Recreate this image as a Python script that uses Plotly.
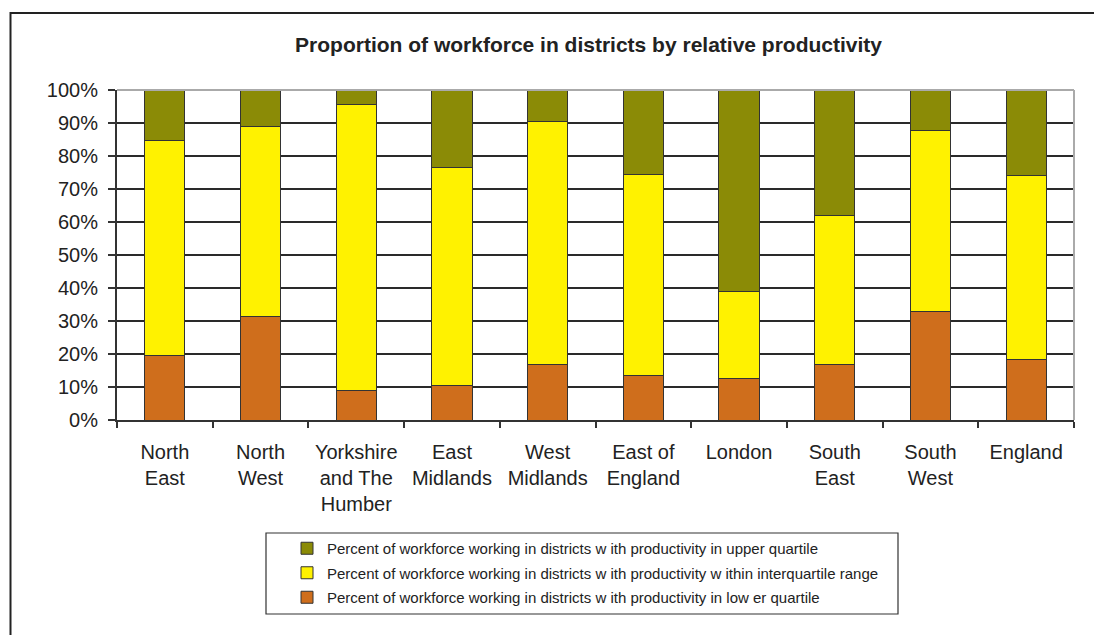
import plotly.graph_objects as go

regions = ["North<br>East", "North<br>West", "Yorkshire<br>and The<br>Humber", "East<br>Midlands",
           "West<br>Midlands", "East of<br>England", "London", "South<br>East", "South<br>West", "England"]

# shares of workforce (%) by productivity band of district
lower_quartile = [19.4, 31.3, 8.8, 10.6, 16.9, 13.5, 12.6, 16.9, 33.0, 18.2]
interquartile = [65.4, 57.5, 86.9, 65.9, 73.6, 60.8, 26.3, 45.2, 54.6, 55.8]
upper_quartile = [15.2, 11.2, 4.3, 23.5, 9.5, 25.7, 61.1, 37.9, 12.4, 26.0]

series_names = [
    "Percent of workforce working in districts w ith productivity in low er quartile",
    "Percent of workforce working in districts w ith productivity w ithin interquartile range",
    "Percent of workforce working in districts w ith productivity in upper quartile",
]
series_values = [lower_quartile, interquartile, upper_quartile]
series_colors = ["#CF6E1C", "#FFF200", "#8B8B06"]
legend_ranks = [3, 2, 1]

y_ticks = list(range(0, 101, 10))
y_tick_labels = [f"{v}%" for v in y_ticks]

W, H = 1094, 635
L, R, T, B = 117, 20, 90, 215
pw, ph = W - L - R, H - T - B


def px_x(x):
    return (x - L) / pw


def px_y(y):
    return (H - B - y) / ph


fig = go.Figure()
for name, vals, col, rank in zip(series_names, series_values, series_colors, legend_ranks):
    fig.add_trace(go.Bar(
        x=regions, y=vals, name=name,
        marker=dict(color=col, line=dict(color="#333333", width=1)),
        legendgroup=f"g{rank}", legendrank=rank,
    ))

axis_font = dict(family="Liberation Sans, Arial, sans-serif", size=20, color="#222222")

fig.update_layout(
    width=W, height=H,
    margin=dict(l=L, r=R, t=T, b=B),
    barmode="stack",
    bargap=0.58,
    plot_bgcolor="white",
    paper_bgcolor="white",
    font=dict(family="Liberation Sans, Arial, sans-serif", color="#222222"),
    title=dict(
        text="<b>Proportion of workforce in districts by relative productivity</b>",
        font=dict(size=21, color="#222222"),
        xref="container", x=0.538, xanchor="center",
        yref="container", y=1 - 45 / H, yanchor="middle",
    ),
    xaxis=dict(
        showline=True, linecolor="#333333", linewidth=2,
        ticks="outside", tickson="boundaries", ticklen=6, tickcolor="#333333", tickwidth=1.5,
        tickfont=axis_font, ticklabelstandoff=13,
        showgrid=False,
    ),
    yaxis=dict(
        range=[0, 100], tickvals=y_ticks, ticktext=y_tick_labels,
        showline=True, linecolor="#333333", linewidth=2,
        ticks="outside", ticklen=7, tickcolor="#333333", tickwidth=1.5,
        tickfont=axis_font, ticklabelstandoff=6,
        showgrid=True, gridcolor="#2a2a2a", gridwidth=1.5,
        zeroline=False,
    ),
    legend=dict(
        traceorder="grouped", tracegroupgap=2,
        orientation="v",
        x=px_x(287), xanchor="left", y=px_y(532), yanchor="top",
        bgcolor="rgba(0,0,0,0)", borderwidth=0,
        font=dict(size=15, color="#222222"),
        itemwidth=30,
    ),
    shapes=[
        # plot frame: grey top and right edges
        dict(type="line", xref="paper", yref="paper", x0=0, x1=1, y0=1, y1=1,
             line=dict(color="#AAAAAA", width=2), layer="above"),
        dict(type="line", xref="paper", yref="paper", x0=1, x1=1, y0=0, y1=1,
             line=dict(color="#AAAAAA", width=2), layer="above"),
        # legend box
        dict(type="rect", xref="paper", yref="paper",
             x0=px_x(266), x1=px_x(898), y0=px_y(614), y1=px_y(533),
             line=dict(color="#333333", width=1.2), fillcolor="rgba(0,0,0,0)"),
        # outer chart border
        dict(type="rect", xref="paper", yref="paper",
             x0=px_x(10.5), x1=px_x(1100), y0=px_y(660), y1=px_y(13),
             line=dict(color="#222222", width=2), fillcolor="rgba(0,0,0,0)"),
    ],
)

fig.write_html("out.html")
